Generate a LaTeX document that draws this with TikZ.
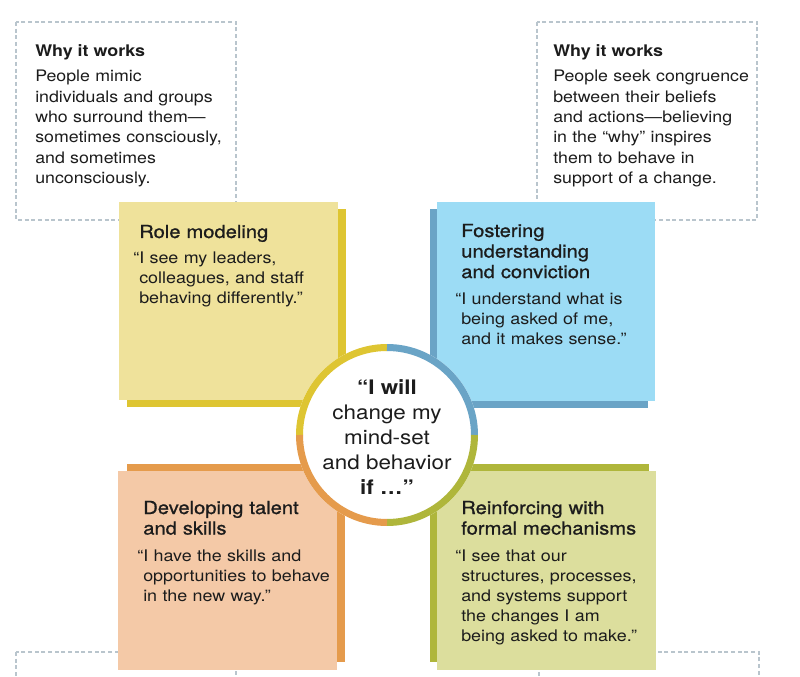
\documentclass[tikz,border=0pt]{standalone}
\usepackage{fontspec}
\setmainfont{TeX Gyre Heros}[FakeStretch=1.12]
\newfontfamily\medfont{TeX Gyre Heros}[FakeStretch=1.12,FakeBold=1]
\usepackage{tikz}
\usetikzlibrary{positioning}

\definecolor{dashgray}{HTML}{B9C5CD}
\definecolor{textblack}{HTML}{1C1C1C}
\definecolor{yellowfill}{HTML}{EFE29B}
\definecolor{yellowdark}{HTML}{DEC532}
\definecolor{bluefill}{HTML}{9CDCF5}
\definecolor{bluedark}{HTML}{6AA4C6}
\definecolor{orangefill}{HTML}{F4C9A7}
\definecolor{orangedark}{HTML}{E59B4C}
\definecolor{greenfill}{HTML}{DCDE9D}
\definecolor{greendark}{HTML}{AFB63B}

\begin{document}
\begin{tikzpicture}[x=0.75pt,y=-0.75pt,
    whybox/.style={draw=dashgray,line width=2pt,dash pattern=on 3pt off 2pt},
    whytitle/.style={anchor=base west,inner sep=0pt,text=textblack,font=\bfseries\fontsize{12}{15}\selectfont},
    whytext/.style={anchor=base west,inner sep=0pt,text=textblack,text width=170pt,align=left,font=\fontsize{11.9}{15.2}\selectfont},
    cardtitle/.style={anchor=base west,inner sep=0pt,text=textblack,text width=170pt,align=left,font=\medfont\fontsize{13.5}{15.4}\selectfont},
    cardquote/.style={anchor=base west,inner sep=0pt,text=textblack,text width=170pt,align=left,font=\fontsize{12}{15}\selectfont},
    ring/.style={line width=5.25pt}]
    \useasboundingbox (0,0) rectangle (800,677);
    \clip (0,0) rectangle (800,677);

    % dotted "why it works" frames
    \draw[whybox] (16,22) rectangle (236,220);
    \draw[whybox] (537,22) rectangle (757,220);
    \draw[whybox] (16,652) rectangle (236,860);
    \draw[whybox] (539,652) rectangle (759,860);

    % the four cards with their shadows
    \fill[yellowdark] (127,209) rectangle (346,407);
    \fill[yellowfill] (119,202) rectangle (338,400);
    \fill[bluedark]   (430,209) rectangle (648,408);
    \fill[bluefill]   (437,202) rectangle (655,401);
    \fill[orangedark] (127,464) rectangle (345,662);
    \fill[orangefill] (118,471) rectangle (337,670);
    \fill[greendark]  (430,464) rectangle (649,662);
    \fill[greenfill]  (437,471) rectangle (656,670);

    % hub
    \coordinate (hub) at (387,435);
    \fill[white] (hub) circle[radius=91];
    \draw[ring,yellowdark] (hub) ++(180:87.5) arc[start angle=180,end angle=270,radius=87.5];
    \draw[ring,bluedark]   (hub) ++(270:87.5) arc[start angle=270,end angle=360,radius=87.5];
    \draw[ring,greendark]  (hub) ++(0:87.5)   arc[start angle=0,end angle=90,radius=87.5];
    \draw[ring,orangedark] (hub) ++(90:87.5)  arc[start angle=90,end angle=180,radius=87.5];
    \node[align=center,inner sep=0pt,text=textblack,font=\fontsize{15}{18.75}\selectfont] (pledge) at (387,437)
        {{\bfseries “I will}\\change my\\mind-set\\and behavior\\{\bfseries if …”}};

    \node[whytitle] (whytitleL) at (35,57) {Why it works};
    \node[whytext] (whytextL) at (35,82) {People mimic\\individuals and groups\\who surround them—\\sometimes consciously,\\and sometimes\\unconsciously.};
    \node[whytitle] (whytitleR) at (553,57) {Why it works};
    \node[whytext] (whytextR) at (553,82) {People seek congruence\\between their beliefs\\and actions—believing\\in the “why” inspires\\them to behave in\\support of a change.};

    \node[cardtitle] (roletitle) at (139,238) {Role modeling};
    \node[cardquote] (rolequote) at (139,264) {\llap{“}I see my leaders,\\colleagues, and staff\\behaving differently.”};

    \node[cardtitle] (fostertitle) at (461,237) {Fostering\\understanding\\and conviction};
    \node[cardquote] (fosterquote) at (461,305) {\llap{“}I understand what is\\being asked of me,\\and it makes sense.”};

    \node[cardtitle] (talenttitle) at (143,514) {Developing talent\\and skills};
    \node[cardquote] (talentquote) at (143,561) {\llap{“}I have the skills and\\opportunities to behave\\in the new way.”};

    \node[cardtitle] (formaltitle) at (461,514) {Reinforcing with\\formal mechanisms};
    \node[cardquote] (formalquote) at (461,561) {\llap{“}I see that our\\structures, processes,\\and systems support\\the changes I am\\being asked to make.”};
\end{tikzpicture}
\end{document}
